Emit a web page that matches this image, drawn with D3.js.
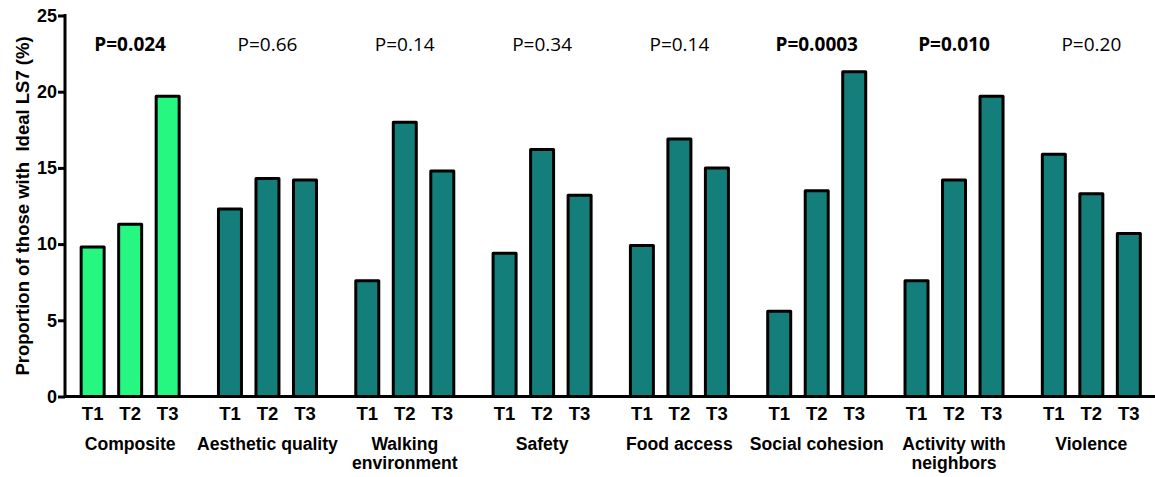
<!DOCTYPE html>
<html>
<head>
<meta charset="utf-8">
<script src="https://cdn.jsdelivr.net/npm/d3@7"></script>
<style>
  html, body { margin: 0; padding: 0; background: #fff; }
  svg { display: block; }
</style>
</head>
<body>
<svg id="chart" width="1155" height="477"></svg>
<script>
const categories = ["Composite", "Aesthetic quality", "Walking\nenvironment", "Safety", "Food access", "Social cohesion", "Activity with\nneighbors", "Violence"];
const tiers = ["T1", "T2", "T3"];
const t1Values = [9.9, 12.4, 7.7, 9.5, 10.0, 5.7, 7.7, 16.0];
const t2Values = [11.4, 14.4, 18.1, 16.3, 17.0, 13.6, 14.3, 13.4];
const t3Values = [19.8, 14.3, 14.9, 13.3, 15.1, 21.4, 19.8, 10.8];
const pLabels = ["P=0.024", "P=0.66", "P=0.14", "P=0.34", "P=0.14", "P=0.0003", "P=0.010", "P=0.20"];
const pBold = [true, false, false, false, false, true, true, false];
const yTicks = [0, 5, 10, 15, 20, 25];
const yTitle = "Proportion of those with  Ideal LS7 (%)";

const svg = d3.select("#chart");
const W = 1155, H = 477;
const axisX = 65;
const y = d3.scaleLinear().domain([0, 25]).range([396.5, 15.5]);
const x0 = d3.scaleBand().domain(d3.range(categories.length)).range([61.5, 1160]).padding(0);
const x1 = d3.scaleBand().domain(tiers).range([0, x0.bandwidth()]).paddingInner(0.387).paddingOuter(0.524);

const sansBold = "'Liberation Sans', Arial, Helvetica, sans-serif";
const pFont = "'Open Sans', 'Noto Sans', sans-serif";

const data = categories.map((c, i) => ({
  cat: c, i,
  vals: [t1Values[i], t2Values[i], t3Values[i]]
}));

// bars
const g = svg.selectAll("g.grp").data(data).enter().append("g")
  .attr("class", "grp")
  .attr("transform", d => `translate(${x0(d.i)},0)`);

g.selectAll("rect").data(d => d.vals.map((v, k) => ({v, k, i: d.i}))).enter().append("rect")
  .attr("x", d => x1(tiers[d.k]))
  .attr("width", x1.bandwidth())
  .attr("y", d => y(d.v) + 1.5)
  .attr("height", d => y(0) - y(d.v) - 1.5)
  .attr("fill", d => d.i === 0 ? "#26F780" : "#147F7A")
  .attr("stroke", "#000")
  .attr("stroke-width", 3)
  .attr("stroke-linejoin", "round");

// tier labels
g.selectAll("text.tier").data(d => tiers.map(t => ({t}))).enter().append("text")
  .attr("class", "tier")
  .attr("x", d => x1(d.t) + x1.bandwidth() / 2)
  .attr("y", 420)
  .attr("text-anchor", "middle")
  .attr("font-family", sansBold)
  .attr("font-weight", "bold")
  .attr("font-size", 18.5)
  .attr("fill", "#000")
  .text(d => d.t);

// category labels
g.each(function(d) {
  const lines = d.cat.split("\n");
  const t = d3.select(this).append("text")
    .attr("x", x0.bandwidth() / 2)
    .attr("y", 450)
    .attr("text-anchor", "middle")
    .attr("font-family", sansBold)
    .attr("font-weight", "bold")
    .attr("font-size", 17.6)
    .attr("fill", "#000");
  lines.forEach((l, j) => {
    t.append("tspan").attr("x", x0.bandwidth() / 2).attr("dy", j === 0 ? 0 : 19).text(l);
  });
});

// p-values
g.append("text")
  .attr("x", x0.bandwidth() / 2)
  .attr("y", 51)
  .attr("text-anchor", "middle")
  .attr("font-family", pFont)
  .attr("font-weight", d => pBold[d.i] ? "bold" : "normal")
  .attr("font-size", 19)
  .attr("fill", "#000")
  .text(d => pLabels[d.i]);

// x axis line
svg.append("line")
  .attr("x1", axisX).attr("x2", W)
  .attr("y1", y(0)).attr("y2", y(0))
  .attr("stroke", "#000").attr("stroke-width", 3);

// y axis
const yAxis = svg.append("g")
  .attr("transform", `translate(${axisX},0)`)
  .call(d3.axisLeft(y).tickValues(yTicks).tickSize(7).tickPadding(1).tickSizeOuter(0));
yAxis.select(".domain").attr("stroke", "#000").attr("stroke-width", 3)
  .attr("d", `M0,${y(0) + 1.5}V${y(25) - 1.5}`);
yAxis.selectAll(".tick line").attr("stroke", "#000").attr("stroke-width", 3);
yAxis.selectAll(".tick text")
  .attr("font-family", sansBold)
  .attr("font-weight", "bold")
  .attr("font-size", 18)
  .attr("fill", "#000");

// y title
svg.append("text")
  .attr("transform", `translate(29,${(y(0) + y(25)) / 2}) rotate(-90)`)
  .attr("text-anchor", "middle")
  .attr("font-family", sansBold)
  .attr("font-weight", "bold")
  .attr("font-size", 18.5)
  .attr("fill", "#000")
  .style("white-space", "pre")
  .text(yTitle);
</script>
</body>
</html>
